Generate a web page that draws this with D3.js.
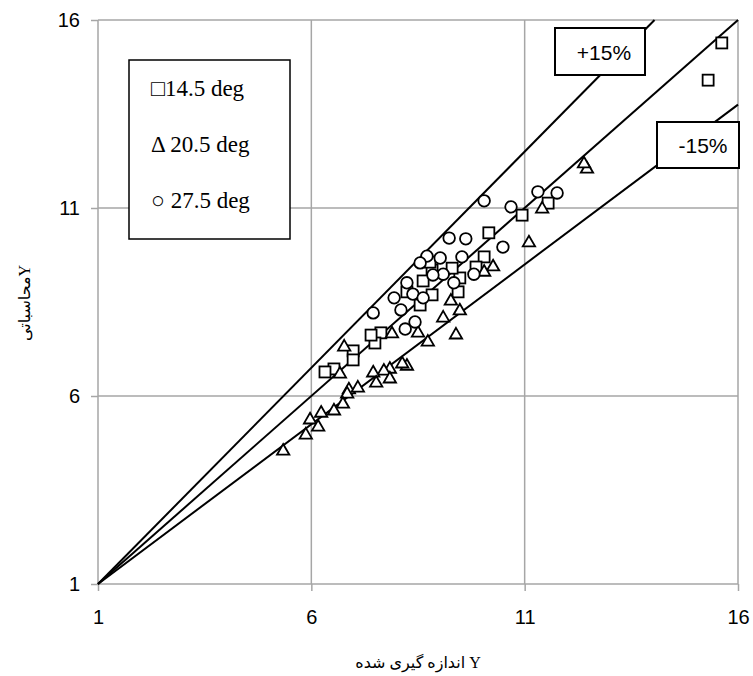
<!DOCTYPE html>
<html>
<head>
<meta charset="utf-8">
<script src="https://cdn.jsdelivr.net/npm/d3@7"></script>
<style>
  html, body { margin: 0; padding: 0; background: #fff; }
  svg { display: block; }
</style>
</head>
<body>
<svg id="chart" width="753" height="676"></svg>
<script>
// Axis ticks (same for both axes)
const tickValues = [1, 6, 11, 16];

// Reference lines: slope about the origin point (1,1)
const refLines = [
  { name: "+15%", k: 1.15 },
  { name: "0", k: 1.0 },
  { name: "-15%", k: 0.85 }
];

// Measured (x) vs computed (y), 14.5 deg
const deg145 = [
  [15.62, 15.39], [15.30, 14.40], [11.55, 11.13], [10.94, 10.81], [10.16, 10.34],
  [10.05, 9.70], [9.86, 9.43], [9.48, 9.14], [9.30, 9.40], [9.44, 8.77],
  [8.83, 9.35], [8.62, 9.06], [8.83, 8.69], [8.24, 8.77], [8.55, 8.42],
  [7.63, 7.68], [7.49, 7.41], [7.40, 7.62], [6.98, 7.20], [6.98, 6.96],
  [6.53, 6.72], [6.32, 6.64], [8.78, 9.56]
];

// 20.5 deg
const deg205 = [
  [12.46, 12.06], [12.39, 12.20], [11.41, 11.00], [11.10, 10.10], [10.26, 9.46],
  [10.05, 9.32], [9.48, 8.29], [9.27, 8.55], [9.09, 8.10], [9.39, 7.65],
  [8.73, 7.46], [8.50, 7.70], [7.89, 7.68], [6.77, 7.33], [8.24, 6.82],
  [8.13, 6.88], [7.84, 6.74], [7.70, 6.69], [7.45, 6.64], [7.84, 6.48],
  [7.52, 6.37], [6.88, 6.19], [7.09, 6.24], [6.84, 6.08], [6.74, 5.81],
  [6.53, 5.63], [6.23, 5.57], [5.97, 5.39], [6.16, 5.20], [5.87, 4.99],
  [5.34, 4.56], [6.67, 6.61]
];

// 27.5 deg
const deg275 = [
  [11.76, 11.40], [11.31, 11.43], [10.68, 11.03], [10.05, 11.19], [10.49, 9.96],
  [9.62, 10.18], [9.23, 10.20], [9.53, 9.70], [9.02, 9.67], [8.71, 9.72],
  [8.55, 9.54], [9.81, 9.24], [9.34, 9.01], [9.09, 9.24], [8.85, 9.22],
  [8.24, 9.01], [8.38, 8.71], [7.94, 8.61], [8.62, 8.61], [8.10, 8.29],
  [7.45, 8.21], [8.20, 7.78], [8.43, 7.97]
];

const legendItems = ["\u25A114.5 deg", "\u0394 20.5 deg", "\u25CB 27.5 deg"];
const xTitle = "اندازه گیری شده Y";
const yTitle = "محاسباتی" + "Y";

const svg = d3.select("#chart");
const plotL = 98, plotR = 738, plotT = 20, plotB = 584;

const x = d3.scaleLinear().domain([1, 16]).range([plotL, plotR]);
const y = d3.scaleLinear().domain([1, 16]).range([plotB, plotT]);

const gridColor = "#a6a6a6";
const tickFont = "'Liberation Sans', Arial, sans-serif";
const serifFont = "'Liberation Serif', 'Times New Roman', serif";

// Gridlines
const grid = svg.append("g");
grid.selectAll("line.vx").data(tickValues.slice(1)).join("line")
  .attr("class", "vx")
  .attr("x1", d => x(d)).attr("x2", d => x(d))
  .attr("y1", plotT).attr("y2", plotB)
  .attr("stroke", gridColor).attr("stroke-width", 1.5);
grid.selectAll("line.hy").data(tickValues.slice(1)).join("line")
  .attr("class", "hy")
  .attr("x1", plotL).attr("x2", plotR)
  .attr("y1", d => y(d)).attr("y2", d => y(d))
  .attr("stroke", gridColor).attr("stroke-width", 1.5);

// Axes
const xAxis = d3.axisBottom(x).tickValues(tickValues).tickSize(7).tickPadding(19);
const yAxis = d3.axisLeft(y).tickValues(tickValues).tickSize(7).tickPadding(11);

const gx = svg.append("g").attr("transform", `translate(0,${plotB})`).call(xAxis);
const gy = svg.append("g").attr("transform", `translate(${plotL},0)`).call(yAxis);
[gx, gy].forEach(g => {
  g.select(".domain").attr("stroke", gridColor).attr("stroke-width", 1.5);
  g.selectAll(".tick line").attr("stroke", gridColor).attr("stroke-width", 1.5);
  g.selectAll(".tick text").attr("fill", "#000")
    .style("font-family", tickFont).style("font-size", "20px");
});
gx.select(".domain").attr("d", `M${plotL},0H${plotR}`);
gy.select(".domain").attr("d", `M0,${plotB}V${plotT}`);

// Reference lines, clipped to the plot frame
const lineG = svg.append("g");
refLines.forEach(r => {
  let x2 = 16, y2 = 1 + r.k * 15;
  if (y2 > 16) { y2 = 16; x2 = 1 + 15 / r.k; }
  lineG.append("line")
    .attr("x1", x(1)).attr("y1", y(1))
    .attr("x2", x(x2)).attr("y2", y(y2))
    .attr("stroke", "#000").attr("stroke-width", 2);
});

// Markers
const mk = svg.append("g").attr("fill", "#fff").attr("stroke", "#000").attr("stroke-width", 1.8);
mk.selectAll("rect").data(deg145).join("rect")
  .attr("x", d => x(d[0]) - 5.5).attr("y", d => y(d[1]) - 5.5)
  .attr("width", 11).attr("height", 11);
const tri = d3.symbol().type(d3.symbolTriangle).size(66);
mk.selectAll("path.tri").data(deg205).join("path")
  .attr("class", "tri")
  .attr("d", tri)
  .attr("transform", d => `translate(${x(d[0])},${y(d[1]) + 1})`);
mk.selectAll("circle").data(deg275).join("circle")
  .attr("cx", d => x(d[0])).attr("cy", d => y(d[1])).attr("r", 5.8);

// Line labels
function labelBox(x0, y0, w, h, text, tx, ty) {
  svg.append("rect").attr("x", x0).attr("y", y0).attr("width", w).attr("height", h)
    .attr("fill", "#fff").attr("stroke", "#000").attr("stroke-width", 2);
  svg.append("text").attr("x", tx).attr("y", ty)
    .attr("text-anchor", "middle")
    .style("font-family", tickFont).style("font-size", "21px")
    .text(text);
}
labelBox(555, 28, 90, 47, refLines[0].name, 604, 60);
labelBox(657, 122, 82, 46, refLines[2].name, 703, 153);

// Legend
const lg = svg.append("g");
lg.append("rect").attr("x", 129).attr("y", 60).attr("width", 161).attr("height", 179)
  .attr("fill", "#fff").attr("stroke", "#000").attr("stroke-width", 1.5);
lg.selectAll("text").data(legendItems).join("text")
  .attr("x", 151).attr("y", (d, i) => 96 + i * 56)
  .style("font-family", serifFont)
  .style("font-size", "23px")
  .text(d => d);

// Axis titles
svg.append("text")
  .attr("x", 418).attr("y", 668)
  .attr("text-anchor", "middle")
  .style("font-family", "'Liberation Serif', 'DejaVu Sans', serif")
  .style("font-size", "16px")
  .text(xTitle);
svg.append("text")
  .attr("transform", "translate(30,303) rotate(-90)")
  .attr("text-anchor", "middle")
  .style("font-family", "'Liberation Serif', 'DejaVu Sans', serif")
  .style("font-size", "16px")
  .text(yTitle);
</script>
</body>
</html>
